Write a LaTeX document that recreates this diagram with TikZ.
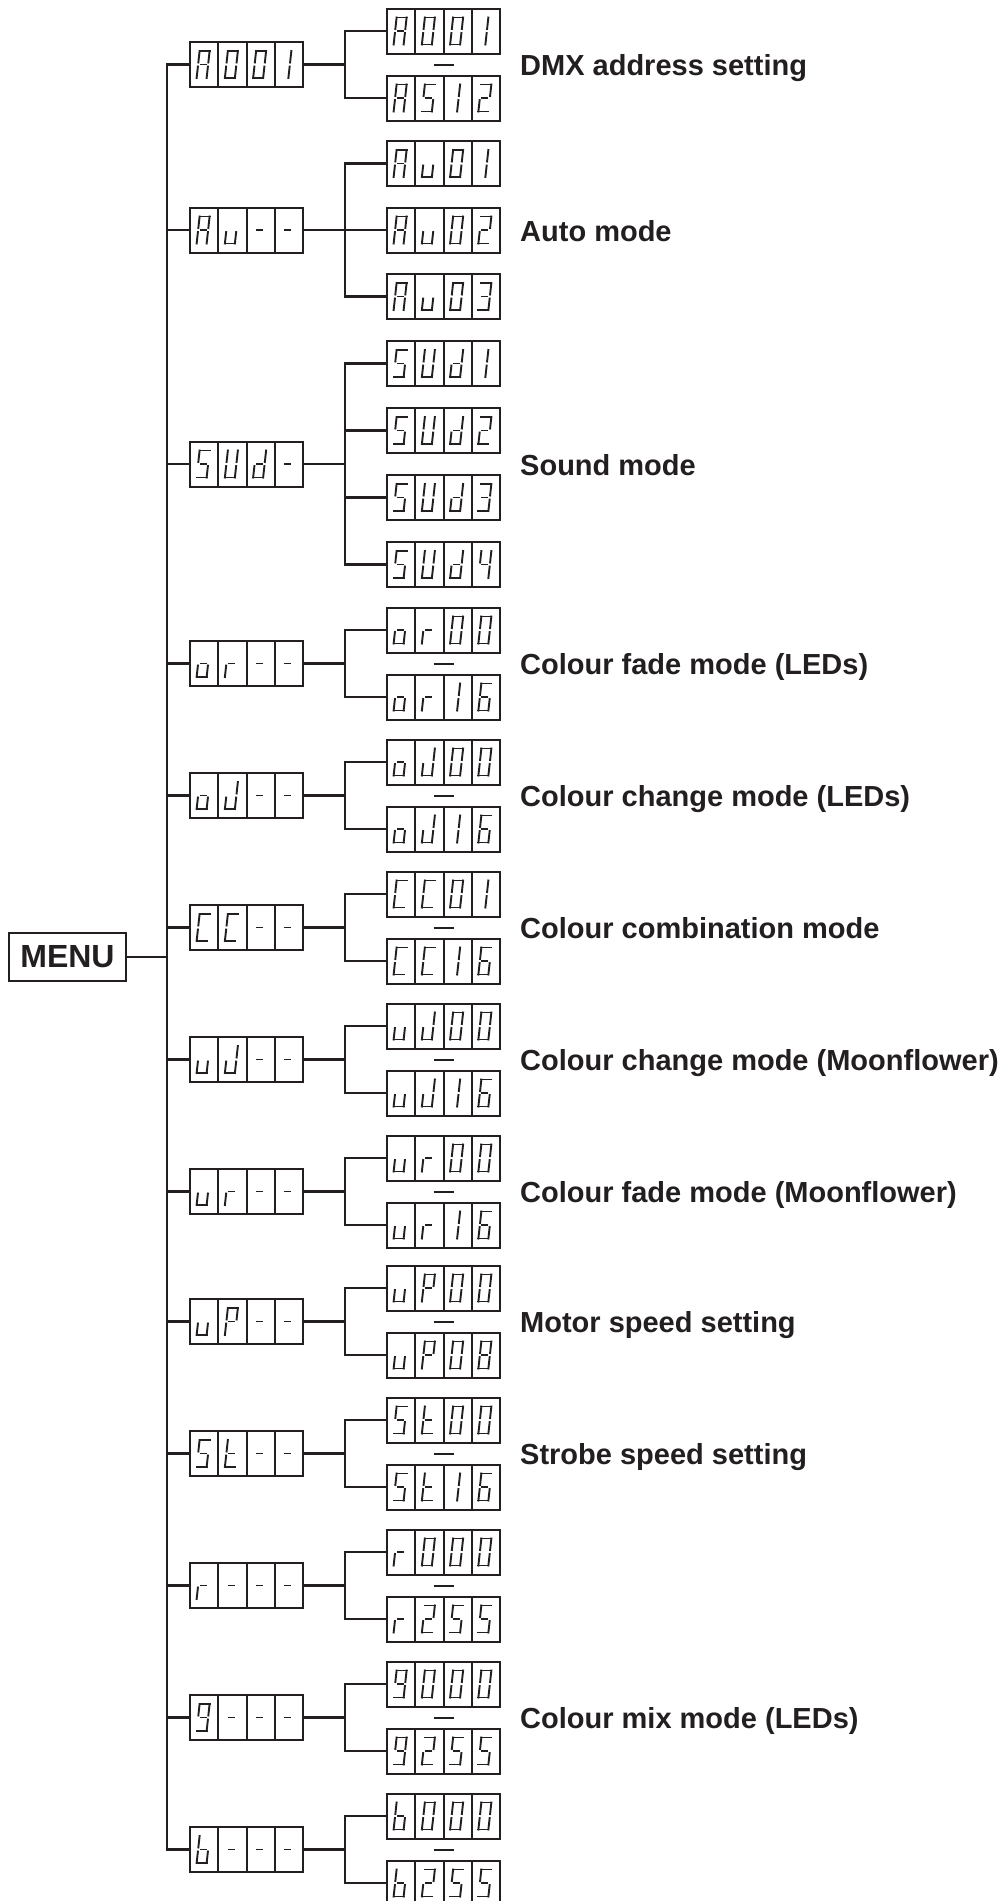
\documentclass[tikz,border=0pt]{standalone}
\usepackage{fontspec}
\setmainfont{Liberation Sans}
\usetikzlibrary{calc}
\definecolor{ink}{HTML}{231F20}

% seven-segment strokes (local coords, y downwards)
\def\sgma{-5/-13.5/5/-13.5}
\def\sgmb{5/-13.5/5/-2}
\def\sgmc{5/2/5/13.5}
\def\sgmd{-5/13.5/5/13.5}
\def\sgme{-5/2/-5/13.5}
\def\sgmf{-5/-13.5/-5/-2}
\def\sgmg{-2.6/0/2.6/0}
\def\sgmB{2/-13.5/2/-2}
\def\sgmC{2/2/2/13.5}

\def\chA{a,b,c,e,f,g}
\def\chZero{a,b,c,d,e,f}
\def\chOne{B,C}
\def\chTwo{a,b,g,e,d}
\def\chThree{a,b,g,c,d}
\def\chFour{f,g,b,c}
\def\chFive{a,f,g,c,d}
\def\chSix{a,f,g,e,d,c}
\def\chEight{a,b,c,d,e,f,g}
\def\chNine{a,b,c,d,f,g}
\def\chu{c,d,e}
\def\chU{b,c,d,e,f}
\def\chd{b,c,d,e,g}
\def\cho{c,d,e,g}
\def\chr{e,g}
\def\chJ{b,c,d,e}
\def\chC{a,f,e,d}
\def\chP{a,b,f,g,e}
\def\cht{f,e,g,d}
\def\chb{f,e,d,c,g}
\def\chDash{g}

\def\drawseg#1/#2/#3/#4\relax{\draw[segline] (#1,#2) -- (#3,#4);}

\newcommand\sevglyph[3]{%
  \begin{scope}[shift={(#1,#2)},xslant=0.11]
    \foreach \s in #3 {\edef\sgtmp{\csname sgm\s\endcsname}\expandafter\drawseg\sgtmp\relax}
  \end{scope}}

\newcommand\disp[7]{%
  \node[dispbox] (#1) at (#2,#3) {};
  \foreach \k in {1,2,3} {\draw[cellline] ({#2-56.5+\k*28.25},{#3-22.5}) -- ({#2-56.5+\k*28.25},{#3+22.5});}
  \sevglyph{#2-43.375}{#3}{#4}
  \sevglyph{#2-15.125}{#3}{#5}
  \sevglyph{#2+13.125}{#3}{#6}
  \sevglyph{#2+41.375}{#3}{#7}}

\newcommand\sepmark[2]{%
  \draw[sepdash] ($(#1.south)!0.5!(#2.north)+(-10,0)$) -- ($(#1.south)!0.5!(#2.north)+(10,0)$);}

\newcommand\pairgroup[2]{%
  \coordinate (#1j) at (345,#2);
  \draw[conn] (#1.east) -- (#1j);
  \draw[conn] (#1a.west) -| (#1j) |- (#1b.west);
  \sepmark{#1a}{#1b}}

\begin{document}
\begin{tikzpicture}[x=1pt,y=-1pt,
  segline/.style={draw=ink,line width=1.9pt,line cap=rect},
  dispbox/.style={draw=ink,line width=2pt,minimum width=113pt,minimum height=45pt,inner sep=0pt,fill=white},
  cellline/.style={draw=ink,line width=2pt},
  conn/.style={draw=ink,line width=2.5pt},
  sepdash/.style={draw=ink,line width=2pt},
  lbl/.style={text=ink,font=\fontsize{29}{34}\selectfont\bfseries,inner sep=0pt,anchor=base west},
  menubox/.style={draw=ink,line width=2pt,minimum width=117pt,minimum height=48pt,inner sep=0pt,text=ink,font=\fontsize{32}{36}\selectfont\bfseries}]
\fill[white] (0,0) rectangle (1000,1901);
\useasboundingbox (0,0) rectangle (1000,1901);

% MENU
\node[menubox] (menu) at (67.5,957) {MENU};
\coordinate (tb) at (167,1849.5);

% group 1
\disp{g1}{246.5}{64.5}{\chA}{\chZero}{\chZero}{\chOne}
\disp{g1a}{443.5}{31}{\chA}{\chZero}{\chZero}{\chOne}
\disp{g1b}{443.5}{98}{\chA}{\chFive}{\chOne}{\chTwo}
\pairgroup{g1}{64.5}

% group 2
\disp{g2}{246.5}{230}{\chA}{\chu}{\chDash}{\chDash}
\disp{g2a}{443.5}{163.5}{\chA}{\chu}{\chZero}{\chOne}
\disp{g2b}{443.5}{230}{\chA}{\chu}{\chZero}{\chTwo}
\disp{g2c}{443.5}{296.5}{\chA}{\chu}{\chZero}{\chThree}
\coordinate (g2j) at (345,230);
\draw[conn] (g2.east) -- (g2j);
\draw[conn] (g2a.west) -| (g2j) |- (g2c.west);
\draw[conn] (g2j) -- (g2b.west);

% group 3
\disp{g3}{246.5}{464}{\chFive}{\chU}{\chd}{\chDash}
\disp{g3a}{443.5}{363.5}{\chFive}{\chU}{\chd}{\chOne}
\disp{g3b}{443.5}{430.5}{\chFive}{\chU}{\chd}{\chTwo}
\disp{g3c}{443.5}{497.5}{\chFive}{\chU}{\chd}{\chThree}
\disp{g3d}{443.5}{564.5}{\chFive}{\chU}{\chd}{\chFour}
\coordinate (g3j) at (345,464);
\draw[conn] (g3.east) -- (g3j);
\draw[conn] (g3a.west) -| (g3j) |- (g3d.west);
\draw[conn] (g3b.west) -| (g3j);
\draw[conn] (g3c.west) -| (g3j);

% group 4
\disp{g4}{246.5}{663.5}{\cho}{\chr}{\chDash}{\chDash}
\disp{g4a}{443.5}{630}{\cho}{\chr}{\chZero}{\chZero}
\disp{g4b}{443.5}{697}{\cho}{\chr}{\chOne}{\chSix}
\pairgroup{g4}{663.5}

% group 5
\disp{g5}{246.5}{795.5}{\cho}{\chJ}{\chDash}{\chDash}
\disp{g5a}{443.5}{762}{\cho}{\chJ}{\chZero}{\chZero}
\disp{g5b}{443.5}{829}{\cho}{\chJ}{\chOne}{\chSix}
\pairgroup{g5}{795.5}

% group 6
\disp{g6}{246.5}{927.5}{\chC}{\chC}{\chDash}{\chDash}
\disp{g6a}{443.5}{894}{\chC}{\chC}{\chZero}{\chOne}
\disp{g6b}{443.5}{961}{\chC}{\chC}{\chOne}{\chSix}
\pairgroup{g6}{927.5}

% group 7
\disp{g7}{246.5}{1059.5}{\chu}{\chJ}{\chDash}{\chDash}
\disp{g7a}{443.5}{1026}{\chu}{\chJ}{\chZero}{\chZero}
\disp{g7b}{443.5}{1093}{\chu}{\chJ}{\chOne}{\chSix}
\pairgroup{g7}{1059.5}

% group 8
\disp{g8}{246.5}{1191.5}{\chu}{\chr}{\chDash}{\chDash}
\disp{g8a}{443.5}{1158}{\chu}{\chr}{\chZero}{\chZero}
\disp{g8b}{443.5}{1225}{\chu}{\chr}{\chOne}{\chSix}
\pairgroup{g8}{1191.5}

% group 9
\disp{g9}{246.5}{1321.5}{\chu}{\chP}{\chDash}{\chDash}
\disp{g9a}{443.5}{1288}{\chu}{\chP}{\chZero}{\chZero}
\disp{g9b}{443.5}{1355}{\chu}{\chP}{\chZero}{\chEight}
\pairgroup{g9}{1321.5}

% group 10
\disp{g10}{246.5}{1453.5}{\chFive}{\cht}{\chDash}{\chDash}
\disp{g10a}{443.5}{1420}{\chFive}{\cht}{\chZero}{\chZero}
\disp{g10b}{443.5}{1487}{\chFive}{\cht}{\chOne}{\chSix}
\pairgroup{g10}{1453.5}

% group 11
\disp{g11}{246.5}{1585.5}{\chr}{\chDash}{\chDash}{\chDash}
\disp{g11a}{443.5}{1552}{\chr}{\chZero}{\chZero}{\chZero}
\disp{g11b}{443.5}{1619}{\chr}{\chTwo}{\chFive}{\chFive}
\pairgroup{g11}{1585.5}

% group 12
\disp{g12}{246.5}{1717.5}{\chNine}{\chDash}{\chDash}{\chDash}
\disp{g12a}{443.5}{1684}{\chNine}{\chZero}{\chZero}{\chZero}
\disp{g12b}{443.5}{1751}{\chNine}{\chTwo}{\chFive}{\chFive}
\pairgroup{g12}{1717.5}

% group 13
\disp{g13}{246.5}{1849.5}{\chb}{\chDash}{\chDash}{\chDash}
\disp{g13a}{443.5}{1816}{\chb}{\chZero}{\chZero}{\chZero}
\disp{g13b}{443.5}{1883}{\chb}{\chTwo}{\chFive}{\chFive}
\pairgroup{g13}{1849.5}

% trunk
\draw[conn] (g1.west) -| (tb) -- (g13.west);
\foreach \g in {g2,g3,g4,g5,g6,g7,g8,g9,g10,g11,g12} {\draw[conn] (\g.west) -- (\g.west -| tb);}
\draw[conn] (menu.east) -- (menu.east -| tb);

% labels
\node[lbl] (l1) at (520,75.5) {DMX address setting};
\node[lbl] (l2) at (520,241) {Auto mode};
\node[lbl] (l3) at (520,475) {Sound mode};
\node[lbl] (l4) at (520,674.5) {Colour fade mode (LEDs)};
\node[lbl] (l5) at (520,806.5) {Colour change mode (LEDs)};
\node[lbl] (l6) at (520,938.5) {Colour combination mode};
\node[lbl] (l7) at (520,1070.5) {Colour change mode (Moonflower)};
\node[lbl] (l8) at (520,1202.5) {Colour fade mode (Moonflower)};
\node[lbl] (l9) at (520,1332.5) {Motor speed setting};
\node[lbl] (l10) at (520,1464.5) {Strobe speed setting};
\node[lbl] (l12) at (520,1728.5) {Colour mix mode (LEDs)};
\end{tikzpicture}
\end{document}
